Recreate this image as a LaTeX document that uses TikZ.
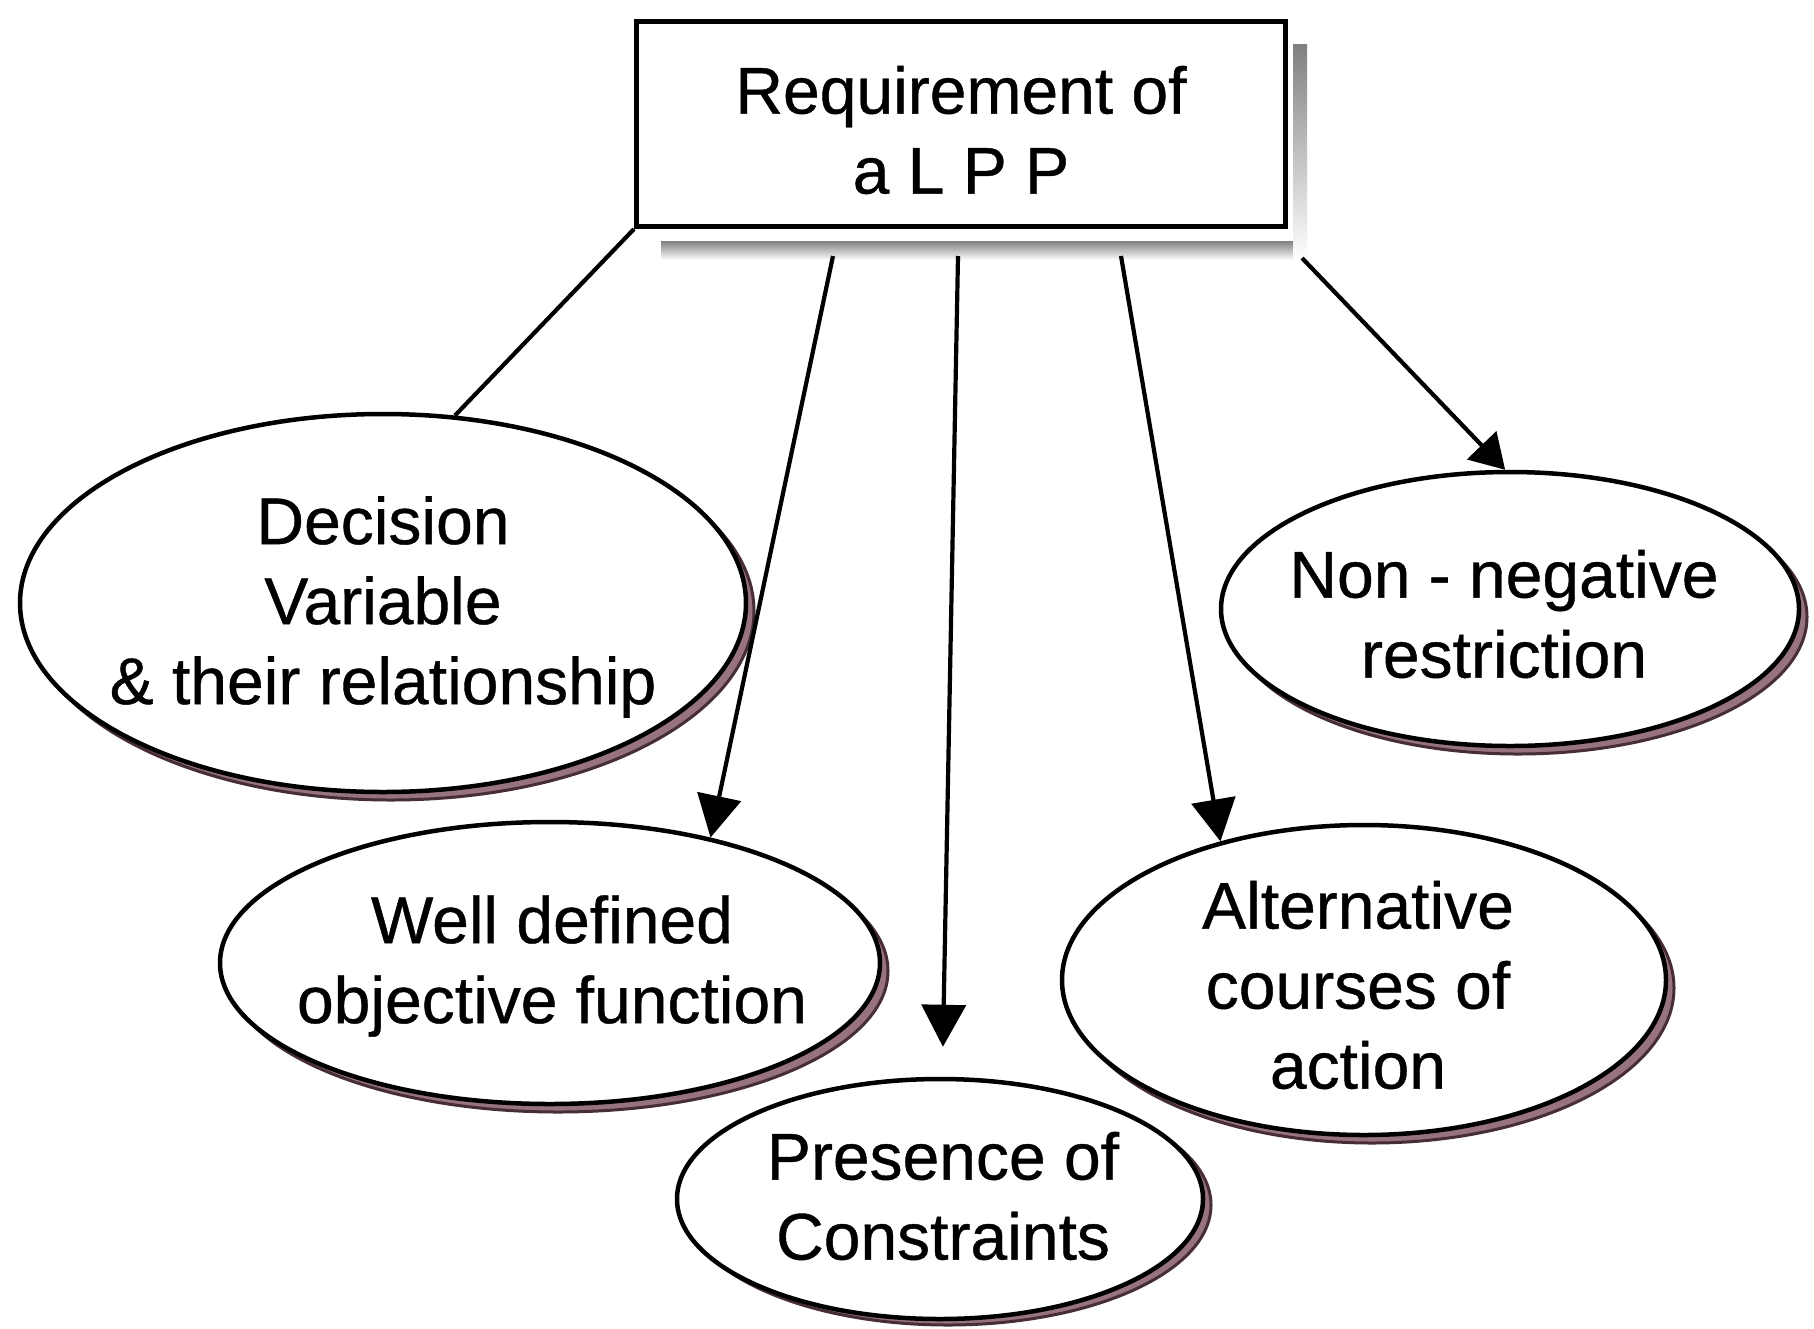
\documentclass[tikz,border=0pt]{standalone}
\usepackage{fontspec}
\setmainfont{Liberation Sans}
\newfontfamily\lblfont{Liberation Sans}[FakeBold=0.6]
\usetikzlibrary{arrows.meta,shapes.geometric,calc}
\definecolor{shade}{RGB}{70,45,55}
\definecolor{shadefill}{RGB}{150,115,125}
\begin{document}
\begin{tikzpicture}[x=1pt,y=-1pt,
  bubble/.style={ellipse, draw=black, line width=4.5pt, fill=white, inner sep=0pt},
  bubshadow/.style={ellipse, draw=shade, fill=shadefill, line width=3pt, inner sep=0pt},
  txt/.style={align=center, font=\lblfont\fontsize{66}{80}\selectfont, inner sep=0pt},
  conn/.style={line width=4.2pt, black},
  arr/.style={conn, -{Triangle[length=42pt,width=44pt]}},
  smallarr/.style={conn, -{Triangle[length=34pt,width=40pt]}},
  dvsize/.style={minimum width=726pt, minimum height=378pt},
  wdsize/.style={minimum width=660pt, minimum height=282pt},
  pcsize/.style={minimum width=526pt, minimum height=240pt},
  acsize/.style={minimum width=604pt, minimum height=310pt},
  nnsize/.style={minimum width=578pt, minimum height=274pt},
]
\useasboundingbox[fill=white] (0,0) rectangle (1814,1328);

% title box
\node[draw=black, line width=5pt, fill=white, minimum width=649pt, minimum height=205pt, inner sep=0pt] (req) at (961,124) {};
\fill[shade] ($(req.south west)+(27,12)$) rectangle ($(req.south east)+(18,31)$);
\fill[shade] ($(req.north east)+(5,25)$) rectangle ($(req.south east)+(19,31)$);
\node[txt] (reqt) at (961,130) {Requirement of\\a L P P};

% shadows of the ellipses
\node[bubshadow, dvsize] at (391,611) {};
\node[bubshadow, wdsize] at (558,971) {};
\node[bubshadow, pcsize] at (948,1205) {};
\node[bubshadow, acsize] at (1372,988) {};
\node[bubshadow, nnsize] at (1518,617) {};

% ellipses
\node[bubble, dvsize] (dv) at (383,603) {};
\node[bubble, wdsize] (wd) at (550,963) {};
\node[bubble, pcsize] (pc) at (940,1199) {};
\node[bubble, acsize] (ac) at (1364,980) {};
\node[bubble, nnsize] (nn) at (1510,609) {};

% texts
\node[txt] (dvt) at (383,607) {Decision\\Variable\\\& their relationship};
\node[txt] (wdt) at (552,966) {Well defined\\objective function};
\node[txt] (pct) at (943,1196) {Presence of\\Constraints};
\node[txt] (act) at (1358,985) {Alternative\\courses of\\action};
\node[txt] (nnt) at (1504,614) {Non - negative\\restriction};

% connector start points below the box shadow
\coordinate (s1) at (833,256);
\coordinate (s2) at (958,256);
\coordinate (s3) at (1121,256);
\coordinate (s4) at (1302,258);

\draw[conn] (req.south west) -- (dv.69);
\draw[arr] (s1) -- (wd.38);
\draw[arr, shorten >=30pt] (s2) -- (pc);
\draw[arr] (s3) -- (ac.136);
\draw[smallarr] (s4) -- (nn.92);
\end{tikzpicture}
\end{document}
